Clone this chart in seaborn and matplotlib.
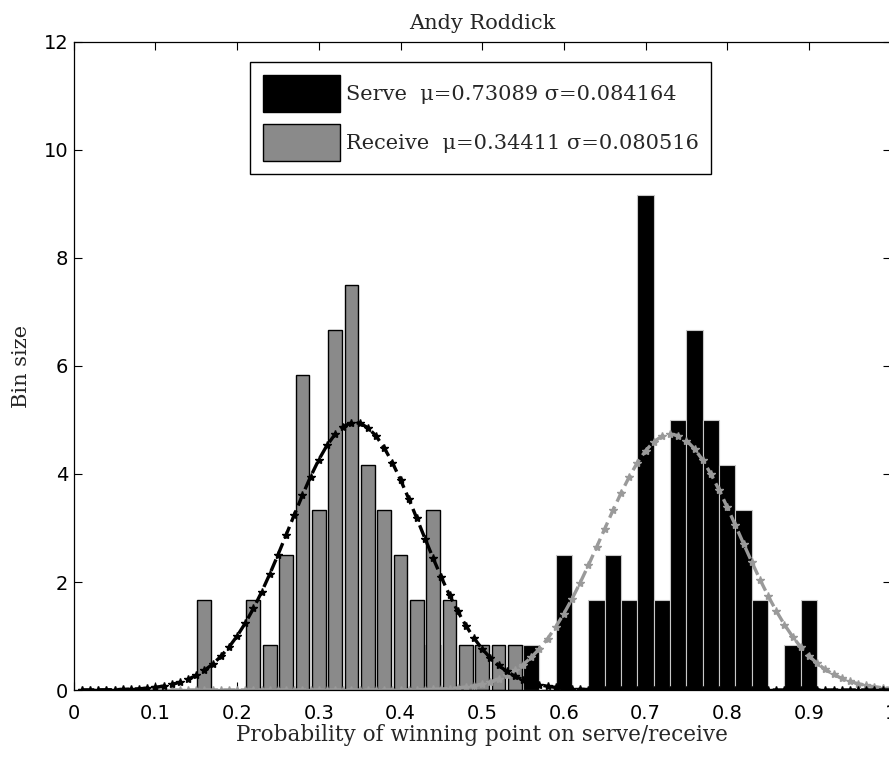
import numpy as np
import pandas as pd
import matplotlib
matplotlib.use("Agg")
import matplotlib.pyplot as plt
import seaborn as sns
from matplotlib.patches import Patch

# ---- data ----
title = "Andy Roddick"
xlabel = "Probability of winning point on serve/receive"
ylabel = "Bin size"

receive_centers = [0.16, 0.22, 0.24, 0.26, 0.28, 0.30, 0.32, 0.34, 0.36,
                   0.38, 0.40, 0.42, 0.44, 0.46, 0.48, 0.50, 0.52, 0.54]
receive_counts = [2, 2, 1, 3, 7, 4, 8, 9, 5, 4, 3, 2, 4, 2, 1, 1, 1, 1]

serve_centers = [0.44, 0.56, 0.60, 0.64, 0.66, 0.68, 0.70, 0.72, 0.74,
                 0.76, 0.78, 0.80, 0.82, 0.84, 0.88, 0.90]
serve_counts = [1, 1, 3, 2, 3, 2, 11, 2, 6, 8, 6, 5, 4, 2, 1, 2]

n_matches = 60
bin_width = 0.02

serve_mu, serve_sigma = 0.73089, 0.084164
receive_mu, receive_sigma = 0.34411, 0.080516

x_ticks = [0, 0.1, 0.2, 0.3, 0.4, 0.5, 0.6, 0.7, 0.8, 0.9, 1]
x_ticklabels = ["0", "0.1", "0.2", "0.3", "0.4", "0.5", "0.6", "0.7", "0.8", "0.9", "1"]
y_ticks = [0, 2, 4, 6, 8, 10, 12]

# ---- style ----
sns.set_style("ticks")
plt.rcParams["font.family"] = ["DejaVu Sans"]
plt.rcParams["xtick.direction"] = "in"
plt.rcParams["ytick.direction"] = "in"

W, H = 889, 762
fig = plt.figure(figsize=(W / 100, H / 100), dpi=100)
left_px, right_px, top_px, bottom_px = 73.7, 890.7, 42, 690
ax = fig.add_axes([left_px / W, 1 - bottom_px / H,
                   (right_px - left_px) / W, (bottom_px - top_px) / H])

serve_df = pd.DataFrame({"x": serve_centers,
                         "w": np.array(serve_counts) / (n_matches * bin_width)})
receive_df = pd.DataFrame({"x": receive_centers,
                           "w": np.array(receive_counts) / (n_matches * bin_width)})

sns.histplot(data=serve_df, x="x", weights="w", binwidth=bin_width,
             binrange=(0.01, 0.99), stat="count",
             color="black", edgecolor="#c8c8c8", linewidth=0.8, alpha=1,
             shrink=1.0, ax=ax)
sns.histplot(data=receive_df, x="x", weights="w", binwidth=bin_width,
             binrange=(0.01, 0.99), stat="count",
             color="#8a8a8a", edgecolor="black", linewidth=1.0, alpha=1,
             shrink=0.85, ax=ax)

# fitted normal curves defined by the legend's mu and sigma
curve_x = np.round(np.arange(0.01, 1.0001, 0.01), 2)
def normal_pdf(x, mu, s):
    return np.exp(-0.5 * ((x - mu) / s) ** 2) / (s * np.sqrt(2 * np.pi))

sns.lineplot(x=curve_x, y=normal_pdf(curve_x, serve_mu, serve_sigma), ax=ax,
             color="#9a9a9a", linestyle="--", linewidth=2.4, marker="*",
             markersize=6, markeredgewidth=1.0, markeredgecolor="#9a9a9a")
sns.lineplot(x=curve_x, y=normal_pdf(curve_x, receive_mu, receive_sigma), ax=ax,
             color="black", linestyle="--", linewidth=2.4, marker="*",
             markersize=6, markeredgewidth=1.0, markeredgecolor="black")

ax.set_xlim(0, 1)
ax.set_ylim(0, 12)
ax.set_xticks(x_ticks)
ax.set_xticklabels(x_ticklabels)
ax.set_yticks(y_ticks)
ax.tick_params(axis="both", labelsize=14, length=6, width=0.8,
               top=True, right=True, colors="black")
ax.tick_params(axis="x", pad=10)
ax.tick_params(axis="y", pad=4)
for sp in ax.spines.values():
    sp.set_visible(True)
    sp.set_color("black")
    sp.set_linewidth(0.9)

serif = ["DejaVu Serif"]
ax.set_title(title, family=serif, fontsize=15, pad=9)
ax.set_xlabel(xlabel, family=serif, fontsize=15.5, labelpad=1)
ax.set_ylabel(ylabel, family=serif, fontsize=15, labelpad=9)

handles = [Patch(facecolor="black", edgecolor="black"),
           Patch(facecolor="#8a8a8a", edgecolor="black")]
labels = [f"Serve  μ={serve_mu} σ={serve_sigma}",
          f"Receive  μ={receive_mu} σ={receive_sigma}"]
leg = ax.legend(handles, labels, loc="upper left", bbox_to_anchor=(0.216, 0.969),
                borderaxespad=0,
                frameon=True, fancybox=False, edgecolor="black", framealpha=1,
                prop={"family": serif, "size": 15}, handlelength=3.7,
                handleheight=2.4, handletextpad=0.3, borderpad=0.6,
                labelspacing=0.55)
leg.get_frame().set_linewidth(1.0)

fig.savefig("out.png", dpi=100)
